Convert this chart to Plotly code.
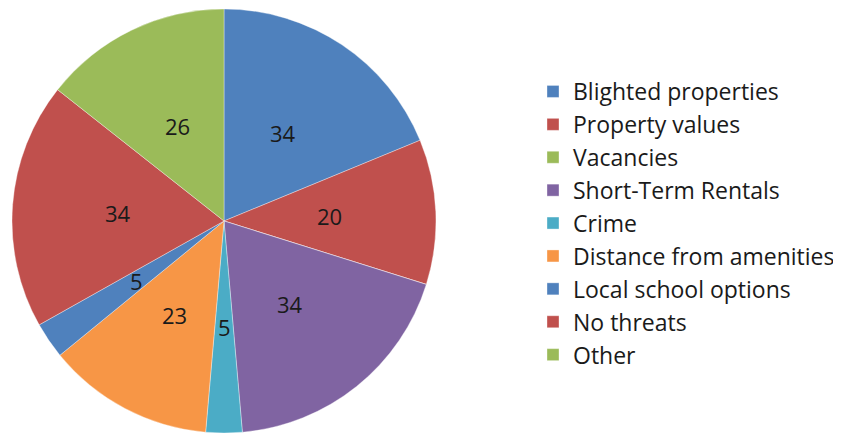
import math
import plotly.graph_objects as go

labels = ["Blighted properties", "Property values", "Vacancies", "Short-Term Rentals",
          "Crime", "Distance from amenities", "Local school options", "No threats", "Other"]
values = [34, 20, 0, 34, 5, 23, 5, 34, 26]
colors = ["#4F81BD", "#C0504D", "#9BBB59", "#8064A2", "#4BACC6",
          "#F79646", "#4F81BD", "#C0504D", "#9BBB59"]

W, H = 841, 434
# page has an 8px body margin; pie geometry in figure pixels
CX, CY, R = 216, 213, 212
dom_x = [(CX - R) / W, (CX + R) / W]
dom_y = [1 - (CY + R) / H, 1 - (CY - R) / H]

fig = go.Figure(go.Pie(
    labels=labels, values=values, textinfo="none",
    sort=False, direction="clockwise", rotation=0,
    marker=dict(colors=colors, line=dict(color="rgba(255,255,255,0.35)", width=1)),
    domain=dict(x=dom_x, y=dom_y),
    hoverinfo="label+value",
))

# data labels at half radius along each slice bisector (as in the reference)
total = sum(values)
cum = 0
for v in values:
    if v:
        mid = (cum + v / 2) / total * 2 * math.pi
        px = CX + 0.5 * R * math.sin(mid)
        py = CY - 0.5 * R * math.cos(mid)
        fig.add_annotation(x=px / W, y=1 - py / H, xref="paper", yref="paper",
                           xanchor="center", yanchor="middle",
                           text=str(v), showarrow=False,
                           font=dict(family="Open Sans", size=22, color="#1a1a1a"))
    cum += v

fig.update_layout(
    width=W, height=H,
    margin=dict(l=0, r=0, t=0, b=0),
    paper_bgcolor="white",
    showlegend=True,
    legend=dict(x=525 / W, xanchor="left", y=(H - 62) / H, yanchor="top",
                font=dict(family="Open Sans", size=23, color="#1a1a1a"),
                bgcolor="rgba(0,0,0,0)", borderwidth=0),
)

fig.write_html("out.html")
